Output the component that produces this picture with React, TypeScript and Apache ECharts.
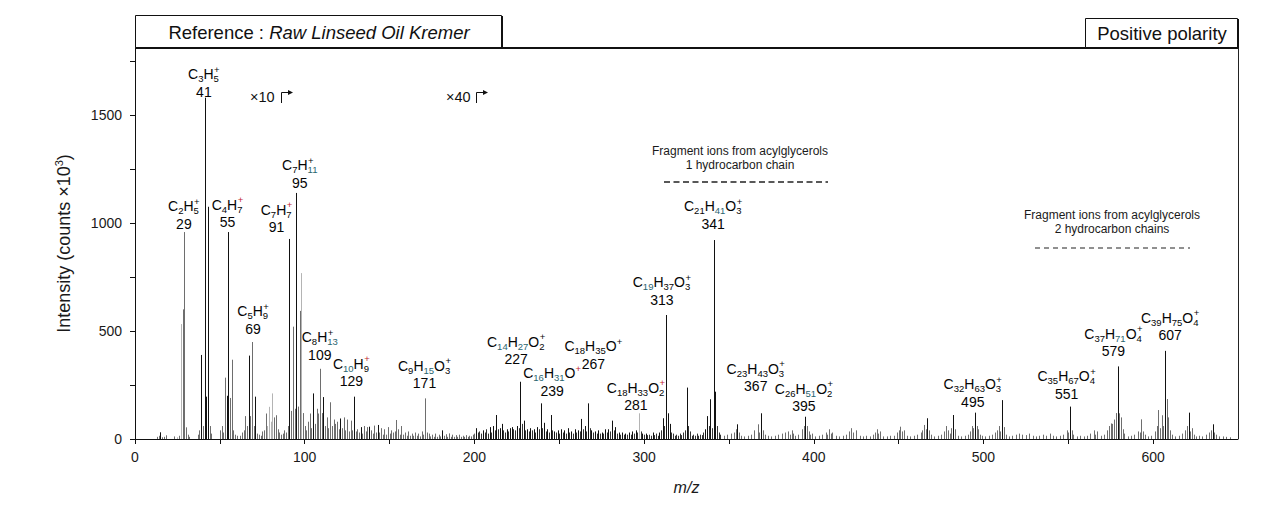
import React, { useEffect, useRef } from 'react';
import * as echarts from 'echarts';

const FONT = '"Liberation Sans", Arial, Helvetica, sans-serif';

// tick labels
const xTickLabels = [0, 100, 200, 300, 400, 500, 600];
const yTickLabels = [0, 500, 1000, 1500];

// peaks: [m/z, intensity (counts x10^3, as displayed)]
const blackPeaks: [number, number][] = [
  [15, 31], [39, 389], [41, 1580], [42, 196], [43, 1075], [54, 200], [55, 958], [67, 386], [71, 196],
  [91, 926], [95, 1139], [105, 211], [111, 194], [121, 95], [129, 196], [133, 55], [138, 57], [143, 65],
  [181, 40], [201, 50], [205, 40], [209, 55], [211, 60], [213, 111], [215, 50], [216, 70], [219, 45],
  [221, 50], [222, 55], [225, 60], [227, 265], [229, 85], [231, 45], [233, 50], [235, 45], [237, 55],
  [239, 165], [241, 75], [243, 45], [245, 111], [247, 35], [249, 40], [251, 45], [253, 40], [255, 50],
  [257, 35], [259, 45], [261, 40], [263, 93], [265, 60], [267, 165], [269, 40], [271, 35], [273, 40],
  [275, 30], [277, 45], [279, 45], [281, 85], [283, 55], [285, 30], [287, 30], [289, 25], [291, 30],
  [293, 35], [295, 40], [299, 25], [301, 25], [305, 30], [309, 30], [311, 96], [313, 574], [314, 119],
  [315, 70], [325, 238], [336, 45], [337, 106], [339, 184], [341, 921], [342, 219], [355, 68], [369, 119],
  [395, 103], [467, 96], [482, 111], [495, 122], [511, 180], [551, 150], [579, 336], [607, 408],
  [621, 122], [635, 68],
];

const grassPeaks: [number, number][] = [
  [202, 30], [203, 35], [204, 25], [206, 30], [207, 45], [208, 25], [210, 30], [212, 40], [214, 45],
  [217, 40], [218, 30], [220, 35], [223, 45], [224, 40], [226, 50], [228, 70], [230, 40], [232, 35],
  [234, 40], [236, 30], [238, 45], [240, 50], [242, 35], [244, 30], [246, 40], [248, 30], [250, 25],
  [252, 30], [254, 25], [256, 30], [258, 25], [260, 30], [262, 35], [264, 45], [266, 35], [268, 50],
  [270, 30], [272, 25], [274, 25], [276, 25], [278, 30], [280, 35], [282, 40], [284, 25], [286, 20],
  [288, 20], [290, 20], [292, 20], [294, 25], [296, 30], [298, 35], [300, 20], [302, 18], [303, 20],
  [304, 15], [306, 18], [307, 25], [308, 15], [310, 40], [312, 60], [316, 30], [317, 25], [318, 15],
  [319, 20], [320, 15], [321, 25], [322, 18], [323, 30], [324, 40], [326, 60], [327, 35], [328, 15],
  [329, 20], [330, 15], [331, 25], [332, 15], [333, 20], [334, 18], [335, 30], [338, 60], [340, 50],
  [343, 60], [344, 30], [345, 20],
];

const grayPeaks: [number, number][] = [
  [13, 10], [14, 15], [16, 8], [17, 10], [18, 17], [23, 12], [26, 15], [28, 600], [29, 958], [30, 54],
  [31, 20], [32, 10], [37, 20], [38, 40], [40, 60], [44, 60], [45, 25], [50, 40], [51, 60], [52, 30],
  [53, 284], [56, 190], [57, 367], [58, 40], [59, 20], [60, 15], [62, 15], [63, 30], [64, 40], [65, 106],
  [66, 60], [68, 106], [69, 449], [70, 60], [72, 25], [73, 20], [74, 15], [75, 35], [76, 40], [77, 118],
  [82, 100], [83, 110], [84, 45], [85, 30], [86, 20], [87, 25], [88, 40], [89, 30], [90, 60], [92, 130],
  [93, 520], [94, 140], [96, 150], [97, 593], [99, 120], [100, 60], [101, 40], [102, 80], [103, 118],
  [104, 50], [106, 70], [107, 140], [108, 118], [109, 325], [110, 120], [112, 60], [113, 100], [114, 50],
  [115, 170], [116, 60], [117, 90], [118, 70], [119, 80], [120, 45], [122, 50], [123, 100], [124, 40],
  [125, 90], [126, 35], [127, 85], [128, 40], [130, 35], [131, 45], [132, 30], [134, 25], [135, 60],
  [136, 35], [137, 55], [139, 40], [140, 25], [141, 62], [142, 30], [144, 30], [145, 50], [146, 20],
  [147, 45], [148, 20], [149, 55], [150, 25], [151, 40], [152, 30], [153, 35], [154, 88], [155, 45],
  [156, 20], [157, 60], [158, 20], [159, 30], [160, 15], [161, 35], [162, 15], [163, 25], [164, 15],
  [165, 30], [166, 15], [167, 25], [168, 12], [169, 35], [170, 20], [171, 188], [172, 30], [173, 25],
  [174, 12], [175, 20], [176, 10], [177, 25], [178, 10], [179, 20], [180, 12], [182, 15], [183, 22],
  [184, 10], [185, 26], [186, 10], [187, 20], [188, 10], [189, 18], [190, 10], [191, 20], [192, 10],
  [193, 15], [194, 10], [195, 18], [196, 10], [197, 15], [198, 12], [199, 20], [200, 25],
  [347, 15], [349, 20], [351, 25], [353, 30], [354, 45], [356, 30], [357, 15], [359, 12], [361, 15],
  [363, 20], [365, 40], [367, 68], [368, 30], [370, 40], [371, 20], [373, 15], [375, 12], [377, 15],
  [379, 20], [381, 25], [383, 30], [385, 35], [386, 20], [387, 40], [388, 25], [389, 15], [391, 20],
  [393, 45], [394, 60], [396, 60], [397, 35], [398, 20], [399, 25], [401, 12], [403, 15], [405, 20],
  [407, 30], [408, 20], [409, 45], [410, 25], [411, 30], [413, 15], [415, 12], [417, 15], [419, 20],
  [421, 35], [422, 50], [423, 30], [425, 40], [427, 15], [429, 12], [431, 15], [433, 12], [435, 20],
  [436, 30], [437, 45], [438, 25], [439, 35], [441, 12], [443, 12], [445, 15], [447, 15], [449, 30],
  [450, 40], [451, 57], [452, 35], [453, 40], [455, 15], [457, 12], [459, 15], [461, 20], [463, 30],
  [464, 40], [465, 65], [466, 45], [468, 40], [469, 20], [471, 12], [473, 15], [475, 20], [477, 35],
  [478, 60], [479, 40], [480, 25], [481, 50], [483, 45], [485, 15], [487, 12], [489, 15], [491, 20],
  [492, 35], [493, 60], [494, 50], [496, 60], [497, 45], [498, 20], [499, 15], [501, 12], [503, 15],
  [505, 20], [507, 30], [508, 40], [509, 60], [510, 35], [512, 55], [513, 20], [515, 12], [517, 15],
  [519, 20], [521, 25], [523, 20], [525, 18], [527, 25], [529, 15], [531, 12], [533, 15], [535, 20],
  [537, 15], [539, 25], [541, 15], [543, 12], [545, 15], [547, 20], [549, 40], [550, 30], [552, 40],
  [553, 20], [555, 12], [557, 15], [559, 12], [561, 15], [563, 25], [565, 40], [566, 20], [567, 35],
  [569, 15], [571, 20], [573, 40], [574, 60], [575, 72], [576, 70], [577, 90], [578, 120], [580, 119],
  [581, 100], [582, 45], [583, 25], [585, 12], [587, 15], [589, 20], [591, 35], [592, 30], [593, 91],
  [594, 35], [595, 20], [597, 12], [599, 15], [601, 35], [602, 60], [603, 134], [604, 50], [605, 110],
  [606, 60], [608, 185], [609, 100], [610, 40], [611, 20], [613, 12], [615, 15], [617, 25], [619, 40],
  [620, 60], [622, 35], [623, 50], [624, 20], [625, 12], [627, 15], [629, 12], [631, 20], [633, 30],
  [634, 40], [636, 30], [637, 20], [639, 12], [641, 12], [643, 10], [645, 8],
];

const lightPeaks: [number, number][] = [
  [25, 8], [27, 532], [78, 60], [79, 149], [80, 80], [81, 211], [98, 768], [297, 119],
];

// peak labels: m/z and formula (_n subscript, ~n coloured subscript, ^c superscript, !c red superscript)
const peakLabels = [
  { mz: 41, formula: 'C_3H_5^+' },
  { mz: 29, formula: 'C_2H_5^+' },
  { mz: 55, formula: 'C_4H_7!+' },
  { mz: 91, formula: 'C_7H_7!+' },
  { mz: 95, formula: 'C_7H~11^+' },
  { mz: 69, formula: 'C_5H_9^+' },
  { mz: 109, formula: 'C_8H~13^+' },
  { mz: 129, formula: 'C~10H_9!+' },
  { mz: 171, formula: 'C_9H~15O_3^+' },
  { mz: 227, formula: 'C~14H~27O_2^+' },
  { mz: 239, formula: 'C~16H~31O!+' },
  { mz: 267, formula: 'C_18H_35O^+' },
  { mz: 281, formula: 'C_18H_33O_2!+' },
  { mz: 313, formula: 'C~19H_37O_3^+' },
  { mz: 341, formula: 'C_21H~41O_3^+' },
  { mz: 367, formula: 'C_23H_43O_3^+' },
  { mz: 395, formula: 'C_26H~51O_2^+' },
  { mz: 495, formula: 'C_32H_63O_3^+' },
  { mz: 551, formula: 'C_35H_67O_4^+' },
  { mz: 579, formula: 'C_37H~71O_4^+' },
  { mz: 607, formula: 'C_39H_75O_4^+' },
];

// where each label's bottom-centre sits, in data coordinates [m/z, intensity]
const labelAnchors: [number, number][] = [
  [40.6, 1569], [28.8, 958], [54.5, 963], [83.4, 940], [97.1, 1148], [69.6, 472], [108.9, 350],
  [127.5, 227], [170.6, 218], [224.6, 329], [245.8, 183], [270.1, 308], [295.2, 118], [310.5, 606],
  [340.7, 956], [365.8, 204], [394.2, 113], [493.7, 134], [549, 169], [576.6, 366], [610, 440],
];

type Tok = { kind: 'f' | 's' | 't' | 'p' | 'r'; text: string };

function parseFormula(f: string): Tok[] {
  const out: Tok[] = [];
  let i = 0;
  while (i < f.length) {
    const c = f[i];
    if (c === '_' || c === '~') {
      let j = i + 1;
      let d = '';
      while (j < f.length && /[0-9]/.test(f[j])) { d += f[j]; j++; }
      out.push({ kind: c === '_' ? 's' : 't', text: d });
      i = j;
    } else if (c === '^' || c === '!') {
      out.push({ kind: c === '^' ? 'p' : 'r', text: f[i + 1] });
      i += 2;
    } else {
      let j = i;
      let t = '';
      while (j < f.length && !'_~^!'.includes(f[j])) { t += f[j]; j++; }
      out.push({ kind: 'f', text: t });
      i = j;
    }
  }
  return out;
}

const MAIN_SIZE = 14;
const SMALL_SIZE = 9.5;
let measureCtx: CanvasRenderingContext2D | null = null;
function textWidth(text: string, size: number): number {
  if (!measureCtx) measureCtx = document.createElement('canvas').getContext('2d');
  if (!measureCtx) return text.length * size * 0.55;
  measureCtx.font = `${size}px "Liberation Sans", Arial, sans-serif`;
  return measureCtx.measureText(text).width;
}

const tokColor: Record<string, string> = { f: '#050505', s: '#050505', t: '#2a6570', p: '#050505', r: '#c0262d' };

function peakSeries(data: [number, number][], color: string, z: number) {
  return {
    type: 'custom',
    data,
    silent: true,
    clip: true,
    z,
    encode: { x: 0, y: 1 },
    renderItem: (_params: any, api: any) => {
      const x = api.value(0);
      const y = api.value(1);
      const b = api.coord([x, 0]);
      const t = api.coord([x, y]);
      const px = Math.round(b[0]) + 0.5;
      return {
        type: 'line',
        shape: { x1: px, y1: b[1], x2: px, y2: t[1] },
        style: { stroke: color, lineWidth: 1 },
      };
    },
  };
}

function labelRenderItem(params: any, api: any) {
  const idx = params.dataIndex;
  const lab = peakLabels[idx];
  const p = api.coord([api.value(0), api.value(1)]);
  const yNum = p[1] - 8.5;
  const yF = yNum - 17.5;
  const toks = parseFormula(lab.formula);
  const placed: { tok: Tok; x: number }[] = [];
  let x = 0;
  let subStart: number | null = null;
  for (const tok of toks) {
    const size = tok.kind === 'f' ? MAIN_SIZE : SMALL_SIZE;
    const w = textWidth(tok.text, size);
    if (tok.kind === 'p' || tok.kind === 'r') {
      if (subStart !== null) {
        placed.push({ tok, x: subStart + 0.5 });
        x = Math.max(x, subStart + 0.5 + w);
      } else {
        placed.push({ tok, x });
        x += w;
      }
      subStart = null;
    } else if (tok.kind === 's' || tok.kind === 't') {
      placed.push({ tok, x });
      subStart = x;
      x += w;
    } else {
      placed.push({ tok, x });
      subStart = null;
      x += w;
    }
  }
  const x0 = p[0] - x / 2;
  const children: any[] = placed.map(({ tok, x: tx }) => {
    const small = tok.kind !== 'f';
    let ty = yF;
    if (tok.kind === 's' || tok.kind === 't') ty = yF + 4.5;
    if (tok.kind === 'p' || tok.kind === 'r') ty = yF - 5;
    return {
      type: 'text',
      x: x0 + tx,
      y: ty,
      style: {
        text: tok.text,
        fontSize: small ? SMALL_SIZE : MAIN_SIZE,
        fontFamily: FONT,
        fill: tokColor[tok.kind],
        align: 'left',
        verticalAlign: 'middle',
      },
    };
  });
  children.push({
    type: 'text',
    x: p[0],
    y: yNum,
    style: { text: String(lab.mz), fontSize: MAIN_SIZE, fontFamily: FONT, fill: '#050505', align: 'center', verticalAlign: 'middle' },
  });
  return { type: 'group', children };
}

export default function App() {
  const ref = useRef<HTMLDivElement>(null);
  useEffect(() => {
    if (!ref.current) return;
    const chart = echarts.init(ref.current, undefined, { renderer: 'svg' });
    const option: any = {
      animation: false,
      backgroundColor: '#ffffff',
      grid: { left: 135, right: 45, top: 48, bottom: 75, containLabel: false },
      xAxis: {
        type: 'value',
        min: 0,
        max: 650,
        interval: 50,
        splitLine: { show: false },
        axisLine: { onZero: false, lineStyle: { color: '#111', width: 1 } },
        axisTick: { length: 5, lineStyle: { color: '#111' } },
        axisLabel: {
          formatter: (v: number) => (xTickLabels.includes(v) ? String(v) : ''),
          fontSize: 14, color: '#1a1a1a', fontFamily: FONT, margin: 11, showMaxLabel: false,
        },
        name: 'm/z',
        nameLocation: 'middle',
        nameGap: 40,
        nameTextStyle: { fontStyle: 'italic', fontSize: 16, color: '#1a1a1a', fontFamily: FONT },
      },
      yAxis: {
        type: 'value',
        min: 0,
        max: 1810,
        interval: 250,
        splitLine: { show: false },
        axisLine: { show: true, lineStyle: { color: '#111', width: 1 } },
        axisTick: { show: true, length: 5, lineStyle: { color: '#111' } },
        axisLabel: {
          formatter: (v: number) => (yTickLabels.includes(v) ? String(v) : ''),
          fontSize: 14, color: '#1a1a1a', fontFamily: FONT, margin: 13, showMaxLabel: false,
        },
        name: '{a|Intensity (counts ×10}{b|3}{a|)}',
        nameLocation: 'middle',
        nameGap: 61,
        nameTextStyle: {
          rich: {
            a: { fontSize: 18, color: '#1a1a1a', fontFamily: FONT, lineHeight: 20 },
            b: { fontSize: 11, color: '#1a1a1a', fontFamily: FONT, lineHeight: 20, padding: [0, 0, 10, 0] },
          },
        },
      },
      series: [
        peakSeries(lightPeaks, '#b4b4b4', 1),
        peakSeries(grayPeaks, '#6e6e6e', 2),
        peakSeries(grassPeaks, '#333333', 3),
        peakSeries(blackPeaks, '#111111', 4),
        {
          type: 'custom',
          silent: true,
          clip: false,
          z: 10,
          encode: { x: 0, y: 1 },
          data: labelAnchors,
          renderItem: labelRenderItem,
        },
      ],
      graphic: [
        { type: 'line', shape: { x1: 135, y1: 48, x2: 1239, y2: 48 }, style: { stroke: '#111', lineWidth: 2 }, z: 20 },
        { type: 'line', shape: { x1: 1238.5, y1: 48, x2: 1238.5, y2: 439 }, style: { stroke: '#222', lineWidth: 1 }, z: 20 },
        { type: 'rect', shape: { x: 135.5, y: 15.5, width: 366, height: 32 }, style: { fill: '#fff', stroke: '#111', lineWidth: 1 }, z: 20 },
        { type: 'line', shape: { x1: 502, y1: 16, x2: 502, y2: 48 }, style: { stroke: '#111', lineWidth: 2 }, z: 21 },
        {
          type: 'text', x: 319, y: 32, z: 22,
          style: {
            text: '{a|Reference : }{b|Raw Linseed Oil Kremer}',
            align: 'center', verticalAlign: 'middle',
            rich: {
              a: { fontSize: 18.5, fontFamily: FONT, fill: '#111' },
              b: { fontSize: 18.5, fontFamily: FONT, fontStyle: 'italic', fill: '#111' },
            },
          },
        },
        { type: 'rect', shape: { x: 1085.5, y: 18.5, width: 152, height: 29 }, style: { fill: '#fff', stroke: '#111', lineWidth: 1 }, z: 20 },
        { type: 'line', shape: { x1: 1238, y1: 19, x2: 1238, y2: 48 }, style: { stroke: '#111', lineWidth: 2 }, z: 21 },
        {
          type: 'text', x: 1162, y: 33, z: 22,
          style: { text: 'Positive polarity', fontSize: 18.5, fontFamily: FONT, fill: '#111', align: 'center', verticalAlign: 'middle' },
        },
        // scale change markers
        { type: 'text', x: 250, y: 97, z: 22, style: { text: '×10', fontSize: 14.5, fontFamily: FONT, fill: '#111', verticalAlign: 'middle' } },
        { type: 'polyline', shape: { points: [[281.5, 103], [281.5, 92.5], [289, 92.5]] }, style: { stroke: '#111', lineWidth: 1, fill: 'none' }, z: 22 },
        { type: 'polygon', shape: { points: [[288, 90], [293, 92.5], [288, 95]] }, style: { fill: '#111' }, z: 22 },
        { type: 'text', x: 446, y: 97, z: 22, style: { text: '×40', fontSize: 14.5, fontFamily: FONT, fill: '#111', verticalAlign: 'middle' } },
        { type: 'polyline', shape: { points: [[476.5, 103], [476.5, 92.5], [484, 92.5]] }, style: { stroke: '#111', lineWidth: 1, fill: 'none' }, z: 22 },
        { type: 'polygon', shape: { points: [[483, 90], [488, 92.5], [483, 95]] }, style: { fill: '#111' }, z: 22 },
        // fragment group annotations
        {
          type: 'text', x: 740, y: 157.5, z: 22,
          style: { text: 'Fragment ions from acylglycerols\n1 hydrocarbon chain', fontSize: 12, lineHeight: 14, fontFamily: FONT, fill: '#1a1a1a', align: 'center', verticalAlign: 'middle' },
        },
        { type: 'line', shape: { x1: 664, y1: 182, x2: 828, y2: 182 }, style: { stroke: '#222', lineWidth: 1.3, lineDash: [6, 3.5] }, z: 22 },
        {
          type: 'text', x: 1112, y: 221.5, z: 22,
          style: { text: 'Fragment ions from acylglycerols\n2 hydrocarbon chains', fontSize: 12, lineHeight: 14, fontFamily: FONT, fill: '#1a1a1a', align: 'center', verticalAlign: 'middle' },
        },
        { type: 'line', shape: { x1: 1035, y1: 248, x2: 1190, y2: 248 }, style: { stroke: '#222', lineWidth: 1.2, lineDash: [5, 4] }, z: 22 },
      ],
    };
    chart.setOption(option);
    return () => chart.dispose();
  }, []);
  return <div ref={ref} style={{ position: 'fixed', left: 0, top: 0, width: 1283, height: 514, background: '#fff' }} />;
}
